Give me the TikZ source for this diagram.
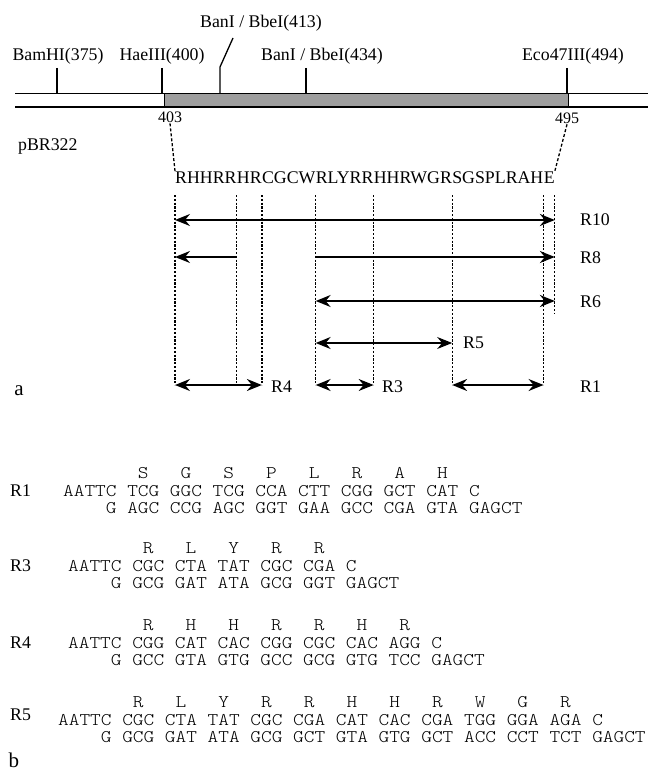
\documentclass[tikz,border=0pt]{standalone}
\usepackage{fontspec}
\setmainfont{Liberation Serif}
\newfontfamily\seqfont[FakeStretch=1.143]{lmmonolt10-regular.otf}
\usetikzlibrary{arrows.meta,positioning,calc}
\newcommand{\labsize}{\fontsize{17.8}{21}\selectfont}
\newcommand{\numsize}{\fontsize{16}{19}\selectfont}
\newcommand{\panelsize}{\fontsize{21}{24}\selectfont}

\begin{document}
\begin{tikzpicture}[x=1pt, y=-1pt, >={Stealth[length=15pt,width=12pt,inset=5pt]},
  every node/.style={font=\labsize, inner sep=0pt},
  lbl/.style={anchor=base},
  rowlbl/.style={anchor=base west},
  numlbl/.style={anchor=base, font=\numsize},
  panel/.style={anchor=base, font=\panelsize},
  seqpart/.style={anchor=base west},
  dnaline/.style={anchor=base west, font=\seqfont\labsize},
  tick/.style={line width=1.3pt},
  dotline/.style={line width=1.3pt, dash pattern=on 2.2pt off 1.6pt},
  connline/.style={line width=1.3pt, dash pattern=on 3pt off 2pt},
  dblarrow/.style={<->, line width=1.4pt},
  onearrow/.style={->, line width=1.4pt}]
  \useasboundingbox (0,0) rectangle (650,778);

  % (a) map of pBR322
  \fill[black!38] (164,94) rectangle (568,107);
  \draw[line width=1pt] (15,94) -- (648,94);
  \draw[line width=1.8pt] (15,107) -- (648,107);
  \draw[line width=1pt] (164,94) -- (164,107) (568,94) -- (568,107);
  \node[lbl] (bam) at (58,61) {BamHI(375)};
  \node[lbl] (hae) at (162,61) {HaeIII(400)};
  \node[lbl] (ban1) at (261,28) {BanI / BbeI(413)};
  \node[lbl] (ban2) at (322,61) {BanI / BbeI(434)};
  \node[lbl] (eco) at (573,61) {Eco47III(494)};
  \foreach \x in {57,162,306,567}
    \draw[tick] (\x,68) -- (\x,94);
  \draw[tick] (220,94) -- (220,67) -- (233,38);
  \node[numlbl] (n403) at (170,123) {403};
  \node[numlbl] (n495) at (567,124) {495};
  \node[rowlbl] (pbr) at (18,150) {pBR322};

  % peptide sequence, cut where the fragments end
  \node[seqpart] (s1) at (175,183) {RHHRR};
  \node[seqpart] (s2) at (s1.base east) {HR};
  \node[seqpart] (s3) at (s2.base east) {CGCW};
  \node[seqpart] (s4) at (s3.base east) {RLYRR};
  \node[seqpart] (s5) at (s4.base east) {HHRWGR};
  \node[seqpart] (s6) at (s5.base east) {SGSPLRAH};
  \node[seqpart] (s7) at (s6.base east) {E};
  \draw[connline] (n403.south) -- (s1.north west);
  \draw[connline] (n495.south) -- (s7.north east);

  \coordinate (ytop) at (0,195);
  \coordinate (ybot) at (0,385);
  \coordinate (y10) at (0,220);
  \coordinate (y8) at (0,257);
  \coordinate (y6) at (0,301);
  \coordinate (y5) at (0,343);
  \foreach \i/\n in {0/s1.west,1/s1.east,2/s2.east,3/s3.east,4/s4.east,5/s5.east,6/s6.east,7/s7.east}
    \coordinate (b\i) at (\n |- ytop);
  \foreach \i in {0,...,6}
    \draw[dotline] (b\i) -- (b\i |- ybot);
  \draw[dotline] (b7) -- (b7 |- 0,313);

  \foreach \a/\b/\y in {b0/b7/y10,b3/b7/y6,b3/b5/y5,b0/b2/ybot,b3/b4/ybot,b5/b6/ybot}
    \draw[dblarrow] (\a |- \y) -- (\b |- \y);
  \draw[onearrow] (b1 |- y8) -- (b0 |- y8);
  \draw[onearrow] (b3 |- y8) -- (b7 |- y8);

  \node[rowlbl, anchor=west] (r10) at (580,220) {R10};
  \node[rowlbl, anchor=west] (r8) at (580,258) {R8};
  \node[rowlbl, anchor=west] (r6) at (580,302) {R6};
  \node[rowlbl, anchor=west] (r5) at (463,343) {R5};
  \node[rowlbl, anchor=west] (r4) at (271,387) {R4};
  \node[rowlbl, anchor=west] (r3) at (382,387) {R3};
  \node[rowlbl, anchor=west] (r1) at (580,387) {R1};
  \node[panel] (pa) at (19,395) {a};

  % (b) oligonucleotides
  \node[rowlbl] (o1) at (10,496) {R1};
  \node[dnaline] (aa1) at (63,478) {~~~~~~~S~~~G~~~S~~~P~~~L~~~R~~~A~~~H};
  \node[dnaline] (up1) at (63,496) {AATTC~TCG~GGC~TCG~CCA~CTT~CGG~GCT~CAT~C};
  \node[dnaline] (lo1) at (63,513) {~~~~G~AGC~CCG~AGC~GGT~GAA~GCC~CGA~GTA~GAGCT};

  \node[rowlbl] (o3) at (10,571) {R3};
  \node[dnaline] (aa3) at (68,553) {~~~~~~~R~~~L~~~Y~~~R~~~R};
  \node[dnaline] (up3) at (68,571) {AATTC~CGC~CTA~TAT~CGC~CGA~C};
  \node[dnaline] (lo3) at (68,588) {~~~~G~GCG~GAT~ATA~GCG~GGT~GAGCT};

  \node[rowlbl] (o4) at (10,648) {R4};
  \node[dnaline] (aa4) at (68,630) {~~~~~~~R~~~H~~~H~~~R~~~R~~~H~~~R};
  \node[dnaline] (up4) at (68,648) {AATTC~CGG~CAT~CAC~CGG~CGC~CAC~AGG~C};
  \node[dnaline] (lo4) at (68,665) {~~~~G~GCC~GTA~GTG~GCC~GCG~GTG~TCC~GAGCT};

  \node[rowlbl] (o5) at (10,720) {R5};
  \node[dnaline] (aa5) at (58,707) {~~~~~~~R~~~L~~~Y~~~R~~~R~~~H~~~H~~~R~~~W~~~G~~~R};
  \node[dnaline] (up5) at (58,725) {AATTC~CGC~CTA~TAT~CGC~CGA~CAT~CAC~CGA~TGG~GGA~AGA~C};
  \node[dnaline] (lo5) at (58,742) {~~~~G~GCG~GAT~ATA~GCG~GCT~GTA~GTG~GCT~ACC~CCT~TCT~GAGCT};
  \node[panel] (pb) at (14,767) {b};
\end{tikzpicture}
\end{document}
